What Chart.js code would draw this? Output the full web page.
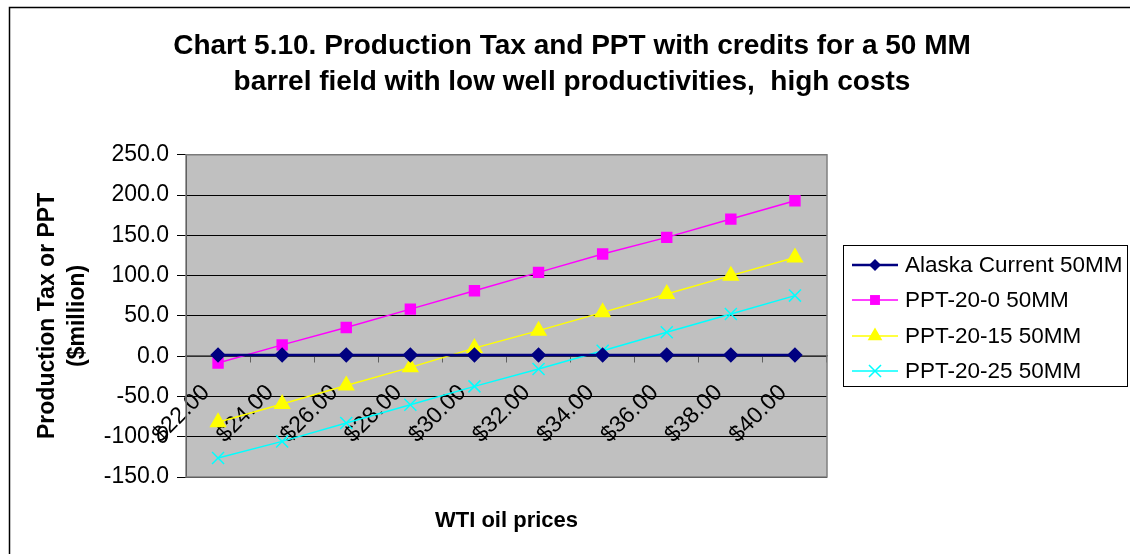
<!DOCTYPE html>
<html>
<head>
<meta charset="utf-8">
<title>Chart 5.10</title>
<script src="https://cdn.jsdelivr.net/npm/chart.js"></script>
<style>
  html, body { margin: 0; padding: 0; background: #fff; }
  #wrap { width: 1130px; height: 554px; }
</style>
</head>
<body>
<div id="wrap"><canvas id="chart" width="1130" height="554"></canvas></div>
<script>
// --- Daten ---
const categories = ['$22.00', '$24.00', '$26.00', '$28.00', '$30.00', '$32.00', '$34.00', '$36.00', '$38.00', '$40.00'];
const alaskaCurrent = [1.5, 1.5, 1.5, 1.5, 1.5, 1.5, 1.5, 1.5, 1.5, 1.5];
const ppt20_0 = [-8.5, 14.0, 35.6, 58.4, 81.2, 104.0, 126.8, 147.5, 170.2, 193.0];
const ppt20_15 = [-82.0, -59.4, -36.3, -13.9, 10.0, 31.7, 54.4, 77.3, 100.0, 122.6];
const ppt20_25 = [-126.5, -105.8, -83.0, -60.2, -37.5, -15.9, 6.8, 29.6, 52.4, 75.2];
const yMin = -150, yMax = 250, yStep = 50;

const FONT = '"Liberation Sans", Arial, sans-serif';

// Marker fuer die eigene Legende
function drawMarker(ctx, style, x, y, r, color) {
    ctx.save();
    ctx.fillStyle = color;
    ctx.strokeStyle = color;
    ctx.lineWidth = 1.5;
    ctx.beginPath();
    if (style === 'rectRot') {
        ctx.moveTo(x, y - r); ctx.lineTo(x + r, y); ctx.lineTo(x, y + r); ctx.lineTo(x - r, y);
        ctx.closePath(); ctx.fill();
    } else if (style === 'rect') {
        const s = r * Math.SQRT1_2;
        ctx.rect(x - s, y - s, 2 * s, 2 * s); ctx.fill();
    } else if (style === 'triangle') {
        ctx.moveTo(x, y - r);
        ctx.lineTo(x + r * 0.866, y + r * 0.5);
        ctx.lineTo(x - r * 0.866, y + r * 0.5);
        ctx.closePath(); ctx.fill();
    } else if (style === 'crossRot') {
        const d = r * Math.SQRT1_2;
        ctx.moveTo(x - d, y - d); ctx.lineTo(x + d, y + d);
        ctx.moveTo(x + d, y - d); ctx.lineTo(x - d, y + d);
        ctx.stroke();
    }
    ctx.restore();
}

// Hintergrund, Rahmen und Legende
const decorPlugin = {
    id: 'decor',
    beforeDraw(chart) {
        const { ctx, chartArea: a } = chart;
        ctx.save();
        ctx.fillStyle = '#fff';
        ctx.fillRect(0, 0, chart.width, chart.height);
        ctx.fillStyle = '#c0c0c0';
        ctx.fillRect(a.left, a.top, a.right - a.left, a.bottom - a.top);
        ctx.restore();
    },
    beforeDatasetsDraw(chart) {
        const { ctx, chartArea: a } = chart;
        ctx.save();
        ctx.strokeStyle = '#808080';
        ctx.lineWidth = 1.5;
        ctx.strokeRect(a.left, a.top, a.right - a.left, a.bottom - a.top);
        ctx.restore();
    },
    afterDraw(chart) {
        const ctx = chart.ctx;
        ctx.save();
        // aeusserer Rahmen
        ctx.strokeStyle = '#000';
        ctx.lineWidth = 1.5;
        ctx.beginPath();
        ctx.moveTo(9.5, chart.height);
        ctx.lineTo(9.5, 7.5);
        ctx.lineTo(chart.width, 7.5);
        ctx.stroke();

        // Legende
        ctx.lineWidth = 1;
        ctx.strokeRect(843.5, 245.5, 284, 141);
        const rows = [265, 300, 336, 371];
        ctx.font = '22.5px ' + FONT;
        ctx.textBaseline = 'middle';
        ctx.textAlign = 'left';
        chart.data.datasets.forEach((ds, i) => {
            const y = rows[i];
            ctx.strokeStyle = ds.borderColor;
            ctx.lineWidth = ds.borderWidth;
            ctx.beginPath();
            ctx.moveTo(852, y); ctx.lineTo(898, y);
            ctx.stroke();
            drawMarker(ctx, ds.pointStyle, 875, y, ds.pointRadius, ds.pointBackgroundColor);
            ctx.fillStyle = '#000';
            ctx.fillText(ds.label, 905, y + 1);
        });
        ctx.restore();
    }
};

function initChart() {
    const ctx = document.getElementById('chart').getContext('2d');
    new Chart(ctx, {
        type: 'line',
        data: {
            labels: categories,
            datasets: [
                { label: 'Alaska Current 50MM', data: alaskaCurrent, borderColor: '#000080', pointBackgroundColor: '#000080', pointBorderColor: '#000080', borderWidth: 2.5, pointStyle: 'rectRot', pointRadius: 6 },
                { label: 'PPT-20-0 50MM', data: ppt20_0, borderColor: '#ff00ff', pointBackgroundColor: '#ff00ff', pointBorderColor: '#ff00ff', borderWidth: 1.5, pointStyle: 'rect', pointRadius: 7 },
                { label: 'PPT-20-15 50MM', data: ppt20_15, borderColor: '#ffff00', pointBackgroundColor: '#ffff00', pointBorderColor: '#ffff00', borderWidth: 1.5, pointStyle: 'triangle', pointRadius: 8.5 },
                { label: 'PPT-20-25 50MM', data: ppt20_25, borderColor: '#00ffff', pointBackgroundColor: '#00ffff', pointBorderColor: '#00ffff', borderWidth: 1.5, pointStyle: 'crossRot', pointRadius: 8.5 }
            ]
        },
        options: {
            responsive: false,
            animation: false,
            devicePixelRatio: 1,
            layout: { padding: { left: 14, right: 0, top: 0, bottom: 0 } },
            elements: { line: { tension: 0 }, point: { borderWidth: 1.5 } },
            plugins: {
                legend: { display: false },
                tooltip: { enabled: false },
                title: {
                    display: true,
                    text: ['Chart 5.10. Production Tax and PPT with credits for a 50 MM', 'barrel field with low well productivities,  high costs'],
                    color: '#000',
                    font: { family: FONT, size: 28, weight: 'bold', lineHeight: 1.3 },
                    padding: { top: 28, bottom: 54 }
                }
            },
            scales: {
                x: {
                    type: 'category',
                    position: { y: 0 },
                    offset: true,
                    grid: { offset: true, drawOnChartArea: false, drawTicks: true, tickLength: 6, color: '#606060' },
                    border: { display: true, color: '#606060', width: 1.5 },
                    ticks: { autoSkip: false, minRotation: 45, maxRotation: 45, padding: 17, labelOffset: -12, color: '#000', font: { family: FONT, size: 23 } }
                },
                x2: {
                    type: 'category',
                    position: 'bottom',
                    grid: { display: false },
                    border: { display: false },
                    ticks: { display: false },
                    title: { display: true, text: 'WTI oil prices', color: '#000', font: { family: FONT, size: 22, weight: 'bold', lineHeight: 1.2 }, padding: { top: 0, bottom: 20 } },
                    afterFit(scale) { scale.height = 77; }
                },
                y: {
                    position: 'left',
                    min: yMin,
                    max: yMax,
                    ticks: { stepSize: yStep, padding: 8, color: '#000', font: { family: FONT, size: 23 }, callback: v => v.toFixed(1) },
                    grid: { color: '#000', lineWidth: 1, tickLength: 9 },
                    border: { display: true, color: '#000', width: 1 },
                    title: { display: true, text: ['Production Tax or PPT', '($million)'], color: '#000', font: { family: FONT, size: 23, weight: 'bold', lineHeight: 1.3 }, padding: { top: 19, bottom: 0 } },
                    afterFit(scale) { scale.width = 172; }
                },
                yR: {
                    position: 'right',
                    display: true,
                    grid: { display: false },
                    border: { display: false },
                    ticks: { display: false },
                    afterFit(scale) { scale.width = 303; }
                }
            }
        },
        plugins: [decorPlugin]
    });
}

window.onload = () => {
    initChart();
};
</script>
</body>
</html>
